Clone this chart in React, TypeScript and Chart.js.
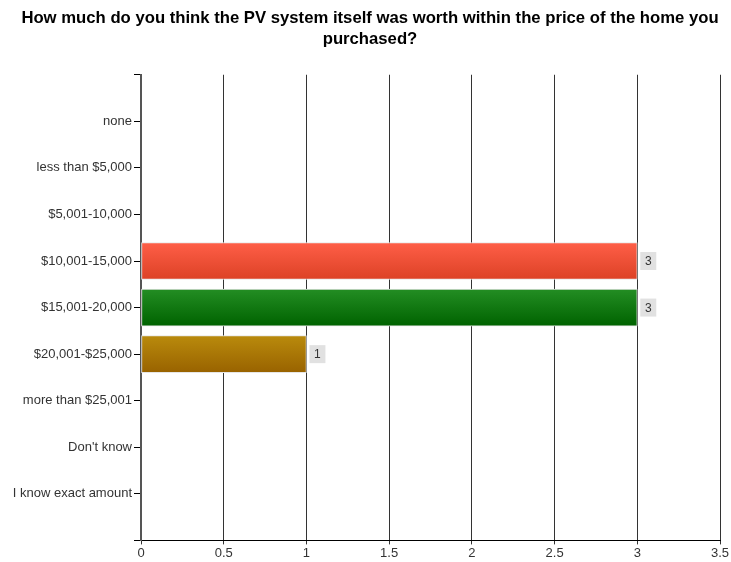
import React, { useEffect, useRef } from "react";
import { Chart, registerables } from "chart.js";

Chart.register(...registerables);

const titleLines = [
  "How much do you think the PV system itself was worth within the price of the home you",
  "purchased?",
];
// blank entries at both ends pad the axis like the reference
const categories = [
  "",
  "none",
  "less than $5,000",
  "$5,001-10,000",
  "$10,001-15,000",
  "$15,001-20,000",
  "$20,001-$25,000",
  "more than $25,001",
  "Don't know",
  "I know exact amount",
  "",
];
const counts = [null, 0, 0, 0, 3, 3, 1, 0, 0, 0, null];
const topColors = ["#fff", "#fff", "#fff", "#fff", "#fe5e47", "#238d23", "#b98a0c", "#fff", "#fff", "#fff", "#fff"];
const bottomColors = ["#fff", "#fff", "#fff", "#fff", "#dd4226", "#006300", "#996300", "#fff", "#fff", "#fff", "#fff"];
const xTicks = [0, 0.5, 1, 1.5, 2, 2.5, 3, 3.5];

const FONT = "'Liberation Sans', Arial, sans-serif";

const valueLabels = {
  id: "valueLabels",
  afterDatasetsDraw(chart: any) {
    const ctx = chart.ctx;
    const meta = chart.getDatasetMeta(0);
    ctx.save();
    ctx.font = `12px ${FONT}`;
    ctx.textBaseline = "middle";
    ctx.textAlign = "center";
    meta.data.forEach((el: any, i: number) => {
      const v = counts[i];
      if (v == null || v === 0) return;
      const x = el.x + 3;
      const y = el.y;
      ctx.fillStyle = "#e1e1e1";
      ctx.fillRect(x, y - 9, 16, 18);
      ctx.fillStyle = "#333";
      ctx.fillText(String(v), x + 8, y + 1);
    });
    ctx.restore();
  },
};

export default function App() {
  const ref = useRef<HTMLCanvasElement | null>(null);
  useEffect(() => {
    document.body.style.margin = "0";
    const canvas = ref.current!;
    const chart = new Chart(canvas, {
      type: "bar",
      data: {
        labels: categories,
        datasets: [
          {
            data: counts as any,
            barThickness: 37,
            borderWidth: 1,
            borderColor: "#e6e6e6",
            borderSkipped: false,
            backgroundColor: (c: any) => {
              const chartRef = c.chart;
              const i = c.dataIndex;
              if (i == null) return "#fff";
              const ys = chartRef.scales && chartRef.scales.y;
              const y = ys ? ys.getPixelForValue(i) : NaN;
              if (!Number.isFinite(y)) return topColors[i];
              const g = chartRef.ctx.createLinearGradient(0, y - 18, 0, y + 18);
              g.addColorStop(0, topColors[i]);
              g.addColorStop(1, bottomColors[i]);
              return g;
            },
          },
        ],
      },
      options: {
        indexAxis: "y",
        animation: false,
        responsive: false,
        maintainAspectRatio: false,
        layout: { padding: { left: 9, right: 0, top: 0, bottom: 0 } },
        plugins: {
          legend: { display: false },
          tooltip: { enabled: false },
          title: {
            display: true,
            text: titleLines,
            color: "#000",
            font: { family: FONT, size: 16.7, weight: "bold", lineHeight: 1.25 },
            padding: { top: 8, bottom: 25 },
          },
        },
        scales: {
          x: {
            min: 0,
            max: 3.5,
            afterBuildTicks: (s: any) => {
              s.ticks = xTicks.map((v) => ({ value: v }));
            },
            afterFit: (s: any) => {
              s.paddingRight = 11;
            },
            ticks: {
              color: "#333",
              font: { family: FONT, size: 13 },
              padding: 1,
              maxRotation: 0,
              callback: (v: any) => String(v),
            },
            grid: {
              color: "#333",
              lineWidth: 1,
              drawTicks: true,
              tickLength: 4,
            },
            border: { color: "#000", width: 1 },
          },
          y: {
            offset: false,
            afterFit: (s: any) => {
              s.width = 132;
            },
            ticks: {
              color: "#333",
              font: { family: FONT, size: 13 },
              padding: 2,
              autoSkip: false,
            },
            grid: {
              offset: false,
              drawOnChartArea: false,
              drawTicks: true,
              tickLength: 7,
              color: "#000",
            },
            border: { color: "#555", width: 2 },
          },
        },
      },
      plugins: [valueLabels],
    });
    return () => chart.destroy();
  }, []);
  return (
    <div style={{ width: 731, height: 562 }}>
      <canvas ref={ref} width={731} height={562} style={{ display: "block" }} />
    </div>
  );
}
